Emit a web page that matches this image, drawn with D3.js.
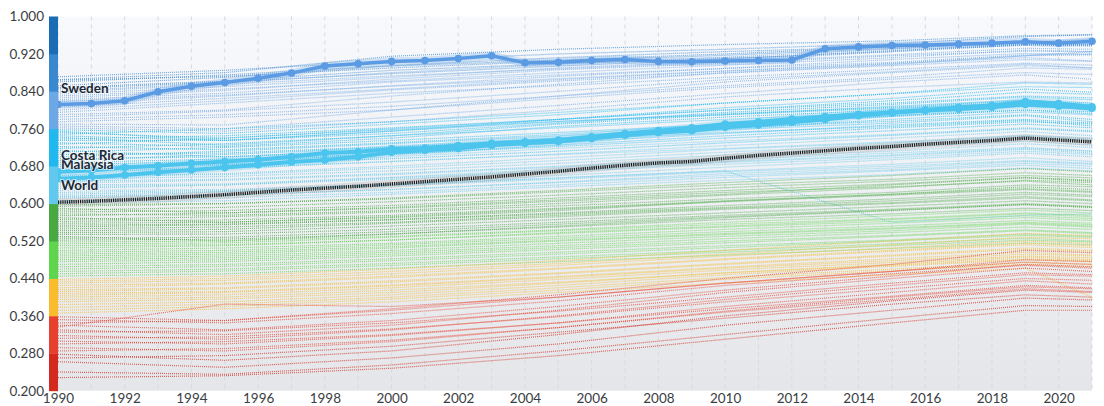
<!DOCTYPE html>
<html>
<head>
<meta charset="utf-8">
<script src="https://cdn.jsdelivr.net/npm/d3@7"></script>
<style>
  body { margin: 0; background: #fff; font-family: Lato, "Open Sans", sans-serif; }
  .tick text { fill: #3a3d42; font-size: 13.5px; font-family: Lato, sans-serif; }
  .country-label { font-size: 13.5px; font-weight: 700; fill: #1d2733; }
</style>
</head>
<body>
<div id="chart"></div>
<script>
// years for the highlighted series
const years = d3.range(1990, 2022);

const sweden = [.812,.814,.820,.839,.851,.859,.868,.879,.894,.899,.904,.906,.910,.916,.901,.902,
  .906,.908,.904,.903,.905,.906,.907,.931,.935,.938,.939,.941,.943,.946,.943,.947];
const costaRica = [.668,.671,.677,.681,.686,.690,.694,.700,.708,.711,.717,.719,.724,.729,.732,.736,
  .743,.750,.756,.762,.770,.775,.781,.786,.791,.795,.800,.806,.810,.818,.814,.807];
const malaysia = [.653,.656,.661,.667,.672,.677,.683,.689,.693,.700,.710,.714,.718,.725,.729,.733,
  .739,.746,.752,.756,.763,.768,.774,.780,.788,.794,.799,.802,.806,.812,.808,.804];
const world = [.603,.605,.608,.611,.615,.619,.624,.629,.633,.637,.642,.647,.652,.657,.663,.669,
  .676,.682,.687,.690,.697,.703,.708,.713,.718,.722,.727,.731,.735,.740,.736,.732];

// other countries, read at these years only
const bgYears = [1990, 1995, 2000, 2005, 2010, 2015, 2019, 2021];
const bgSeries = [
  [.871,.885,.905,.920,.930,.942,.957,.961], [.865,.880,.915,.930,.940,.948,.959,.961],
  [.864,.872,.890,.905,.917,.932,.944,.945], [.860,.875,.895,.912,.925,.935,.946,.948],
  [.852,.870,.894,.907,.920,.935,.941,.940], [.848,.862,.885,.899,.910,.925,.939,.937],
  [.845,.860,.878,.894,.909,.927,.940,.939], [.840,.858,.880,.898,.913,.930,.947,.942],
  [.838,.855,.873,.888,.903,.918,.932,.930], [.834,.850,.870,.890,.905,.925,.945,.952],
  [.830,.845,.862,.880,.896,.912,.928,.925], [.826,.842,.866,.886,.900,.916,.926,.925],
  [.822,.836,.860,.875,.889,.902,.918,.920], [.818,.832,.851,.867,.884,.900,.916,.918],
  [.812,.830,.852,.872,.889,.908,.921,.919], [.806,.825,.845,.865,.883,.899,.912,.905],
  [.800,.820,.843,.862,.879,.895,.908,.904], [.795,.815,.836,.852,.870,.887,.900,.896],
  [.790,.800,.830,.855,.880,.897,.916,.925], [.785,.798,.817,.840,.865,.882,.898,.890],
  [.780,.790,.808,.830,.852,.870,.890,.887], [.775,.785,.800,.825,.848,.866,.880,.876],
  [.770,.768,.800,.830,.860,.880,.895,.890], [.766,.760,.785,.810,.835,.860,.875,.866],
  [.762,.755,.775,.800,.828,.848,.860,.858], [.758,.750,.770,.790,.815,.835,.850,.848],
  [.755,.735,.755,.780,.805,.825,.845,.838], [.752,.740,.760,.780,.800,.815,.830,.826],
  [.748,.760,.775,.795,.815,.835,.858,.855], [.745,.735,.750,.772,.795,.812,.828,.822],
  [.742,.725,.745,.770,.790,.808,.822,.810], [.738,.745,.762,.780,.800,.820,.838,.834],
  [.735,.735,.755,.775,.792,.806,.820,.815], [.730,.722,.740,.765,.785,.800,.812,.800],
  [.727,.740,.758,.776,.790,.804,.816,.802], [.722,.715,.730,.748,.770,.788,.800,.792],
  [.718,.728,.745,.762,.780,.795,.808,.802], [.714,.700,.715,.735,.760,.780,.796,.790],
  [.710,.720,.735,.752,.770,.786,.800,.796], [.705,.708,.722,.740,.758,.772,.788,.775],
  [.700,.712,.728,.745,.762,.776,.790,.780], [.696,.700,.712,.730,.750,.768,.780,.772],
  [.692,.705,.720,.736,.752,.765,.778,.766], [.688,.695,.706,.722,.740,.756,.770,.762],
  [.684,.690,.705,.725,.745,.762,.775,.770], [.680,.684,.696,.712,.730,.746,.760,.754],
  [.676,.682,.700,.718,.734,.748,.762,.756], [.672,.676,.690,.706,.724,.740,.754,.745],
  [.668,.675,.690,.705,.718,.732,.746,.740], [.660,.662,.676,.692,.710,.726,.740,.734],
  [.656,.664,.680,.698,.716,.730,.744,.738], [.652,.658,.670,.686,.704,.720,.734,.725],
  [.648,.652,.664,.680,.698,.712,.728,.720], [.644,.650,.662,.678,.694,.708,.720,.712],
  [.640,.642,.656,.674,.690,.704,.718,.712], [.636,.640,.652,.668,.684,.698,.712,.705],
  [.632,.640,.655,.670,.688,.702,.716,.708], [.628,.630,.642,.660,.678,.694,.708,.700],
  [.624,.628,.640,.655,.670,.684,.698,.690], [.620,.626,.638,.652,.668,.680,.692,.686],
  [.616,.618,.630,.645,.660,.672,.686,.680], [.612,.618,.630,.646,.664,.676,.690,.684],
  [.606,.612,.624,.640,.656,.670,.682,.675], [.602,.606,.620,.636,.650,.662,.676,.670],
  [.615,.625,.640,.655,.670,.560,.575,.578],
  [.598,.600,.612,.628,.645,.660,.675,.668], [.594,.600,.610,.625,.640,.652,.666,.660],
  [.590,.580,.590,.605,.620,.640,.655,.648], [.586,.592,.604,.618,.634,.648,.660,.655],
  [.582,.585,.596,.612,.628,.642,.656,.650], [.578,.575,.585,.600,.618,.634,.650,.645],
  [.574,.580,.592,.608,.624,.636,.648,.640], [.570,.560,.570,.585,.605,.620,.636,.630],
  [.566,.572,.582,.595,.610,.624,.640,.636], [.562,.565,.575,.590,.606,.620,.632,.626],
  [.558,.560,.572,.588,.604,.618,.630,.624], [.554,.556,.566,.580,.596,.610,.624,.618],
  [.550,.555,.565,.578,.592,.606,.620,.615], [.546,.550,.560,.575,.590,.602,.615,.608],
  [.542,.545,.558,.572,.588,.600,.612,.606], [.538,.540,.552,.566,.580,.594,.606,.600],
  [.534,.535,.545,.560,.575,.588,.600,.594], [.530,.520,.535,.552,.570,.585,.598,.592],
  [.526,.528,.540,.556,.572,.586,.598,.592], [.522,.524,.535,.550,.566,.578,.590,.585],
  [.518,.520,.530,.544,.560,.574,.586,.580], [.514,.516,.528,.542,.556,.568,.580,.575],
  [.510,.512,.522,.538,.552,.566,.578,.572], [.505,.510,.522,.536,.550,.562,.574,.568],
  [.500,.505,.515,.530,.545,.558,.570,.564], [.496,.500,.512,.526,.540,.552,.564,.558],
  [.492,.496,.508,.522,.536,.548,.560,.555], [.488,.492,.505,.520,.534,.546,.558,.552],
  [.484,.488,.500,.515,.530,.542,.556,.550], [.480,.484,.496,.510,.525,.538,.550,.545],
  [.476,.480,.492,.506,.520,.532,.544,.538], [.470,.476,.488,.502,.516,.530,.542,.536],
  [.465,.470,.482,.496,.510,.522,.535,.530], [.460,.466,.478,.492,.506,.520,.532,.528],
  [.455,.460,.472,.486,.500,.514,.526,.520], [.450,.456,.468,.482,.496,.510,.522,.518],
  [.445,.450,.462,.476,.490,.504,.516,.512],
  [.438,.445,.460,.478,.500,.520,.536,.532], [.434,.440,.455,.472,.492,.512,.528,.525],
  [.430,.436,.450,.468,.488,.505,.520,.515], [.425,.430,.445,.462,.482,.500,.515,.510],
  [.420,.428,.442,.460,.480,.498,.512,.506], [.416,.420,.435,.452,.472,.490,.505,.500],
  [.412,.418,.432,.450,.470,.488,.502,.498], [.408,.412,.426,.444,.464,.482,.496,.490],
  [.404,.410,.424,.442,.462,.478,.492,.488], [.400,.405,.420,.438,.458,.474,.488,.484],
  [.395,.400,.415,.432,.452,.470,.486,.480], [.390,.396,.410,.430,.452,.468,.482,.478],
  [.384,.390,.405,.425,.448,.466,.480,.476], [.378,.385,.400,.420,.442,.460,.474,.470],
  [.372,.380,.396,.415,.438,.456,.470,.465], [.366,.375,.390,.410,.430,.448,.462,.400],
  [.358,.350,.372,.400,.430,.455,.475,.470], [.352,.345,.365,.392,.425,.450,.468,.462],
  [.345,.350,.375,.405,.440,.470,.500,.495], [.340,.330,.350,.380,.415,.445,.470,.465],
  [.336,.385,.380,.400,.430,.455,.480,.476], [.330,.320,.340,.372,.410,.440,.462,.455],
  [.325,.328,.345,.370,.400,.430,.452,.448], [.318,.310,.330,.360,.395,.425,.448,.445],
  [.312,.315,.332,.358,.390,.418,.440,.436], [.306,.300,.318,.345,.380,.410,.435,.428],
  [.300,.305,.320,.345,.375,.402,.425,.420], [.292,.285,.305,.335,.370,.400,.422,.418],
  [.285,.290,.308,.335,.368,.395,.418,.412], [.278,.265,.285,.320,.360,.392,.415,.410],
  [.270,.275,.295,.325,.355,.385,.405,.400], [.262,.250,.270,.300,.340,.372,.398,.394],
  [.240,.235,.255,.285,.320,.355,.382,.380], [.228,.232,.248,.275,.310,.345,.372,.372]
];

const yTicks = d3.range(0.2, 1.0001, 0.08);
const xTicks = d3.range(1990, 2021, 2);
// colour bands on the left bar, bottom to top
const bandColors = ['#d3291e', '#e8402f', '#f8bc2c', '#5fd44d', '#4aa843',
  '#62c9ee', '#1fb8ef', '#6da8e6', '#3a89d0', '#1a6db4'];

const highlights = [
  { name: 'World', values: world, color: '#1b1b1b', labelDy: -12 },
  { name: 'Malaysia', values: malaysia, color: '#4cc5ee', labelDy: -10 },
  { name: 'Costa Rica', values: costaRica, color: '#4cc5ee', labelDy: -12 },
  { name: 'Sweden', values: sweden, color: '#5b9be4', labelDy: -11 }
];

class HdiChart {
  constructor(_config) {
    this.config = {
      parentElement: _config.parentElement,
      containerWidth: 1104,
      containerHeight: 406,
      margin: { top: 16.5, right: 12, bottom: 15.3, left: 58 },
      barWidth: 9
    };
    this.initVis();
  }

  initVis() {
    let vis = this;
    vis.width = vis.config.containerWidth - vis.config.margin.left - vis.config.margin.right;
    vis.height = vis.config.containerHeight - vis.config.margin.top - vis.config.margin.bottom;

    vis.svg = d3.select(vis.config.parentElement).append('svg')
        .attr('width', vis.config.containerWidth)
        .attr('height', vis.config.containerHeight);

    vis.chart = vis.svg.append('g')
        .attr('transform', `translate(${vis.config.margin.left},${vis.config.margin.top})`);

    vis.xScale = d3.scaleLinear().domain([1990, 2021]).range([0, vis.width]);
    vis.yScale = d3.scaleLinear().domain([0.2, 1.0]).range([vis.height, 0]);
    vis.bandScale = d3.scaleThreshold()
        .domain(d3.range(0.28, 0.99, 0.08))
        .range(bandColors);

    // background fades from white to light grey
    const grad = vis.svg.append('defs').append('linearGradient')
        .attr('id', 'bg-gradient')
        .attr('x1', 0).attr('x2', 0).attr('y1', 0).attr('y2', 1);
    grad.append('stop').attr('offset', '0%').attr('stop-color', '#f8f9fc');
    grad.append('stop').attr('offset', '100%').attr('stop-color', '#e4e6e9');

    vis.chart.append('rect')
        .attr('width', vis.width)
        .attr('height', vis.height)
        .attr('fill', 'url(#bg-gradient)');

    vis.renderVis();
  }

  renderVis() {
    let vis = this;

    // vertical dashed grid, one per year
    vis.chart.append('g').selectAll('line')
        .data(years)
      .join('line')
        .attr('x1', d => vis.xScale(d)).attr('x2', d => vis.xScale(d))
        .attr('y1', 0).attr('y2', vis.height)
        .attr('stroke', '#d6d9dd')
        .attr('stroke-dasharray', '4,4');

    const bgLine = d3.line()
        .x((d, i) => vis.xScale(bgYears[i]))
        .y(d => vis.yScale(d));

    vis.chart.append('g').selectAll('path')
        .data(bgSeries)
      .join('path')
        .attr('d', bgLine)
        .attr('fill', 'none')
        .attr('stroke', d => vis.bandScale(d[0]))
        .attr('stroke-width', 1.2)
        .attr('stroke-opacity', 0.7)
        .attr('stroke-dasharray', '1,1');

    const line = d3.line()
        .x((d, i) => vis.xScale(years[i]))
        .y(d => vis.yScale(d));

    const hl = vis.chart.append('g').selectAll('g')
        .data(highlights)
      .join('g');

    // soft halo behind the highlighted lines
    hl.append('path')
        .attr('d', d => line(d.values))
        .attr('fill', 'none')
        .attr('stroke', d => d.name === 'World' ? '#9a9a9a' : d.color)
        .attr('stroke-opacity', 0.25)
        .attr('stroke-width', 8);

    hl.append('path')
        .attr('d', d => line(d.values))
        .attr('fill', 'none')
        .attr('stroke', d => d.color)
        .attr('stroke-width', d => d.name === 'World' ? 3.5 : (d.name === 'Sweden' ? 3.5 : 4))
        .attr('stroke-dasharray', d => d.name === 'World' ? '1.2,1' : null);

    hl.filter(d => d.name !== 'World').selectAll('circle')
        .data(d => d.values.map(v => ({ v, color: d.color })))
      .join('circle')
        .attr('cx', (d, i) => vis.xScale(years[i]))
        .attr('cy', d => vis.yScale(d.v))
        .attr('r', 3.8)
        .attr('fill', d => d.color);

    // axes
    const xAxis = d3.axisBottom(vis.xScale)
        .tickValues(xTicks)
        .tickFormat(d3.format('d'))
        .tickSize(0)
        .tickPadding(3);
    vis.chart.append('g')
        .attr('transform', `translate(0,${vis.height})`)
        .call(xAxis)
        .call(g => g.select('.domain').remove());

    const yAxis = d3.axisLeft(vis.yScale)
        .tickValues(yTicks)
        .tickFormat(d3.format('.3f'))
        .tickSize(0)
        .tickPadding(14);
    vis.chart.append('g')
        .call(yAxis)
        .call(g => g.select('.domain').remove());

    // coloured category bar on the left edge
    const step = 0.08;
    vis.chart.append('g').selectAll('rect')
        .data(yTicks.slice(0, -1))
      .join('rect')
        .attr('x', -vis.config.barWidth)
        .attr('y', d => vis.yScale(d + step))
        .attr('width', vis.config.barWidth)
        .attr('height', d => vis.yScale(d) - vis.yScale(d + step) + 0.5)
        .attr('fill', d => vis.bandScale(d + 0.01));

    vis.chart.append('g').selectAll('text')
        .data(highlights)
      .join('text')
        .attr('class', 'country-label')
        .attr('x', 3)
        .attr('y', d => vis.yScale(d.values[0]) + d.labelDy)
        .attr('stroke', 'rgba(255,255,255,0.6)')
        .attr('stroke-width', 2)
        .attr('paint-order', 'stroke')
        .text(d => d.name);
  }
}

new HdiChart({ parentElement: '#chart' });
</script>
</body>
</html>
